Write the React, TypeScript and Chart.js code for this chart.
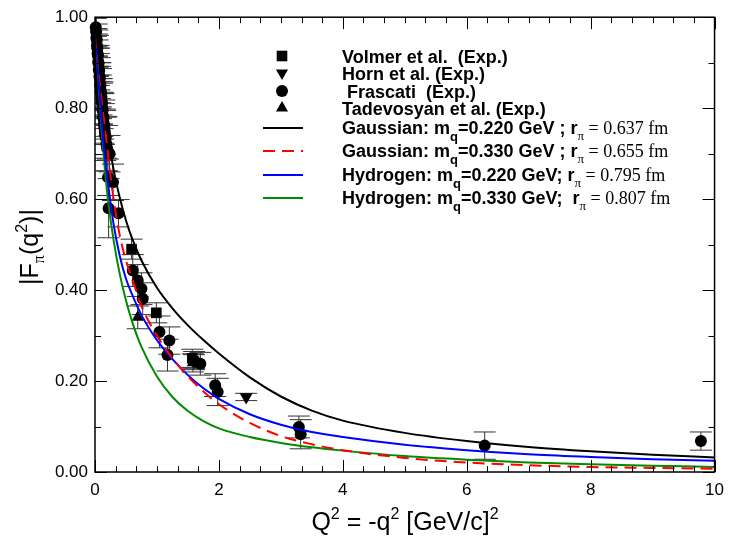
import React, { useEffect, useRef } from 'react';
import { Chart, registerables } from 'chart.js';

Chart.register(...registerables);

// ---- model curves ----
const curveQ2 = [0, 0.05, 0.1, 0.15, 0.2, 0.3, 0.4, 0.5, 0.6, 0.75, 1.0, 1.25, 1.5, 1.75, 2.0, 2.5, 3.0, 3.5, 4.0, 5.0, 6.0, 7.0, 8.0, 9.0, 10.0];
const gauss220 = [1.0, 0.93, 0.865, 0.805, 0.75, 0.665, 0.603, 0.553, 0.513, 0.465, 0.405, 0.36, 0.3225, 0.29, 0.2605, 0.208, 0.166, 0.135, 0.113, 0.086, 0.068, 0.055, 0.0455, 0.038, 0.032];
const gauss330 = [1.0, 0.92, 0.845, 0.775, 0.71, 0.6, 0.52, 0.465, 0.425, 0.365, 0.3, 0.25, 0.21, 0.177, 0.149, 0.108, 0.079, 0.061, 0.048, 0.031, 0.021, 0.015, 0.011, 0.009, 0.007];
const hyd220 = [1.0, 0.88, 0.78, 0.705, 0.645, 0.545, 0.475, 0.425, 0.39, 0.345, 0.29, 0.248, 0.213, 0.184, 0.161, 0.127, 0.104, 0.088, 0.077, 0.06, 0.048, 0.039, 0.033, 0.028, 0.025];
const hyd330 = [1.0, 0.87, 0.765, 0.68, 0.61, 0.51, 0.435, 0.377, 0.33, 0.275, 0.21, 0.165, 0.134, 0.112, 0.096, 0.077, 0.064, 0.0545, 0.047, 0.035, 0.027, 0.021, 0.017, 0.014, 0.011];

// ---- experimental data ----
const volmerQ2 = [0.59, 0.99, 1.57];
const volmerF = [0.49, 0.35, 0.25];
const volmerErr = [0.022, 0.022, 0.02];

const hornQ2 = [1.6, 2.44];
const hornF = [0.243, 0.165];
const hornErr = [0.015, 0.008];

const tadQ2 = [0.69, 1.58];
const tadF = [0.34, 0.24];
const tadErr = [0.025, 0.02];

const frascatiQ2 = [0.012, 0.018, 0.022, 0.028, 0.032, 0.038, 0.042, 0.048, 0.052, 0.058, 0.062, 0.068, 0.072, 0.078, 0.083, 0.088, 0.093, 0.098, 0.104, 0.108, 0.114, 0.119, 0.124, 0.131, 0.137, 0.144, 0.151, 0.158, 0.166, 0.174, 0.183, 0.195, 0.235, 0.21, 0.29, 0.22, 0.38, 0.61, 0.69, 0.75, 0.77, 1.04, 1.2, 1.17, 1.6, 1.7, 1.94, 1.98, 3.29, 3.32, 6.29, 9.78];
const frascatiF = [0.978, 0.968, 0.955, 0.95, 0.938, 0.932, 0.92, 0.915, 0.902, 0.898, 0.885, 0.882, 0.87, 0.866, 0.852, 0.85, 0.838, 0.832, 0.825, 0.815, 0.81, 0.798, 0.795, 0.782, 0.778, 0.765, 0.758, 0.748, 0.74, 0.735, 0.722, 0.712, 0.7, 0.648, 0.637, 0.58, 0.569, 0.443, 0.421, 0.403, 0.381, 0.308, 0.289, 0.257, 0.245, 0.238, 0.191, 0.176, 0.099, 0.083, 0.058, 0.068];
const frascatiErr = [0.02, 0.03, 0.02, 0.035, 0.025, 0.04, 0.03, 0.045, 0.03, 0.04, 0.035, 0.05, 0.03, 0.045, 0.04, 0.05, 0.035, 0.055, 0.04, 0.05, 0.045, 0.06, 0.04, 0.05, 0.055, 0.045, 0.06, 0.05, 0.055, 0.045, 0.06, 0.05, 0.04, 0.04, 0.04, 0.065, 0.03, 0.035, 0.035, 0.035, 0.035, 0.035, 0.03, 0.035, 0.02, 0.025, 0.025, 0.03, 0.024, 0.032, 0.03, 0.02];

// ---- axes ----
const xMin = 0, xMax = 10, xMajor = 2, xMinorPerMajor = 6;
const yMin = 0, yMax = 1, yMajor = 0.2, yMinorPerMajor = 2;

// ---- legend ----
const markerLegend = [
  { label: 'Volmer et al.  (Exp.)', shape: 'square' },
  { label: 'Horn et al. (Exp.)', shape: 'down' },
  { label: ' Frascati  (Exp.)', shape: 'circle' },
  { label: 'Tadevosyan et al. (Exp.)', shape: 'up' },
];
const lineLegendModel = ['Gaussian: m', 'Gaussian: m', 'Hydrogen: m', 'Hydrogen: m'];
const lineLegendMass = ['=0.220 GeV ; r', '=0.330 GeV ; r', '=0.220 GeV; r', '=0.330 GeV;  r'];
const lineLegendRadius = [' = 0.637 fm', ' = 0.655 fm', ' = 0.795 fm', ' = 0.807 fm'];
const lineColors = ['#000000', '#ff0000', '#0000ff', '#008b00'];
const lineDash = [[], [12, 7], [], []];

const SANS = '"Liberation Sans", Arial, Helvetica, sans-serif';
const SERIF = '"Liberation Serif", "Times New Roman", serif';

type Part = { t: string; size: number; bold?: boolean; serif?: boolean; dy?: number };

function drawParts(ctx: CanvasRenderingContext2D, parts: Part[], x: number, y: number, align: 'left' | 'center') {
  const fonts = parts.map((p) => `${p.bold ? 'bold ' : ''}${p.size}px ${p.serif ? SERIF : SANS}`);
  const widths = parts.map((p, i) => {
    ctx.font = fonts[i];
    return ctx.measureText(p.t).width;
  });
  const total = widths.reduce((a, b) => a + b, 0);
  let cx = align === 'center' ? x - total / 2 : x;
  ctx.textAlign = 'left';
  ctx.textBaseline = 'alphabetic';
  parts.forEach((p, i) => {
    ctx.font = fonts[i];
    ctx.fillText(p.t, cx, y + (p.dy || 0));
    cx += widths[i];
  });
}

function drawMarker(ctx: CanvasRenderingContext2D, shape: string, x: number, y: number, r: number) {
  ctx.beginPath();
  if (shape === 'circle') {
    ctx.arc(x, y, r, 0, Math.PI * 2);
  } else if (shape === 'square') {
    const h = r * Math.SQRT1_2;
    ctx.rect(x - h, y - h, 2 * h, 2 * h);
  } else if (shape === 'up') {
    ctx.moveTo(x, y - r);
    ctx.lineTo(x + r * 0.866, y + r * 0.5);
    ctx.lineTo(x - r * 0.866, y + r * 0.5);
  } else {
    ctx.moveTo(x, y + r);
    ctx.lineTo(x + r * 0.866, y - r * 0.5);
    ctx.lineTo(x - r * 0.866, y - r * 0.5);
  }
  ctx.closePath();
  ctx.fillStyle = '#000';
  ctx.fill();
}

const errorBarPlugin = {
  id: 'errorBars',
  beforeDatasetsDraw(chart: any) {
    const { ctx, chartArea } = chart;
    const xs = chart.scales.x;
    const ys = chart.scales.y;
    ctx.save();
    ctx.beginPath();
    ctx.rect(chartArea.left, chartArea.top, chartArea.right - chartArea.left, chartArea.bottom - chartArea.top);
    ctx.clip();
    ctx.strokeStyle = '#333';
    ctx.lineWidth = 1;
    chart.data.datasets.forEach((ds: any) => {
      if (!ds.errors) return;
      ds.data.forEach((pt: any, i: number) => {
        const e = ds.errors[i];
        if (!e) return;
        const px = xs.getPixelForValue(pt.x);
        const pTop = ys.getPixelForValue(pt.y + e);
        const pBot = ys.getPixelForValue(pt.y - e);
        ctx.beginPath();
        ctx.moveTo(px, pTop);
        ctx.lineTo(px, pBot);
        ctx.moveTo(px - 11, pTop);
        ctx.lineTo(px + 11, pTop);
        ctx.moveTo(px - 11, pBot);
        ctx.lineTo(px + 11, pBot);
        ctx.stroke();
      });
    });
    ctx.restore();
  },
};

const framePlugin = {
  id: 'frame',
  afterDatasetsDraw(chart: any) {
    const { ctx, chartArea } = chart;
    const { left, right, top, bottom } = chartArea;
    const xs = chart.scales.x;
    const ys = chart.scales.y;
    ctx.save();
    ctx.strokeStyle = '#000';
    ctx.lineWidth = 1;
    ctx.beginPath();
    const nx = Math.round(((xMax - xMin) / xMajor) * xMinorPerMajor);
    for (let i = 0; i <= nx; i++) {
      const v = xMin + (i * xMajor) / xMinorPerMajor;
      const px = Math.round(xs.getPixelForValue(v)) + 0.5;
      const len = i % xMinorPerMajor === 0 ? 12 : 6;
      ctx.moveTo(px, bottom);
      ctx.lineTo(px, bottom - len);
      ctx.moveTo(px, top);
      ctx.lineTo(px, top + len);
    }
    const ny = Math.round(((yMax - yMin) / yMajor) * yMinorPerMajor);
    for (let i = 0; i <= ny; i++) {
      const v = yMin + (i * yMajor) / yMinorPerMajor;
      const py = Math.round(ys.getPixelForValue(v)) + 0.5;
      const len = i % yMinorPerMajor === 0 ? 12 : 6;
      ctx.moveTo(left, py);
      ctx.lineTo(left + len, py);
      ctx.moveTo(right, py);
      ctx.lineTo(right - len, py);
    }
    ctx.stroke();
    ctx.lineWidth = 1.5;
    ctx.strokeRect(left, top, right - left, bottom - top);
    ctx.restore();
  },
  afterDraw(chart: any) {
    const { ctx } = chart;
    ctx.save();
    ctx.fillStyle = '#000';
    // legend: markers
    const rowsY = [56, 73, 91, 108, 127, 150, 174, 197];
    const textX = 342;
    markerLegend.forEach((m, i) => {
      const r = m.shape === 'square' ? 7.5 : m.shape === 'circle' ? 6 : 7;
      drawMarker(ctx, m.shape, 282, rowsY[i], r);
      drawParts(ctx, [{ t: m.label, size: 18, bold: true }], textX, rowsY[i] + 6.5, 'left');
    });
    lineLegendModel.forEach((name, i) => {
      const y = rowsY[4 + i];
      ctx.save();
      ctx.strokeStyle = lineColors[i];
      ctx.lineWidth = 2;
      ctx.setLineDash(lineDash[i]);
      ctx.beginPath();
      ctx.moveTo(263, y + 1);
      ctx.lineTo(303, y + 1);
      ctx.stroke();
      ctx.restore();
      ctx.fillStyle = '#000';
      drawParts(
        ctx,
        [
          { t: name, size: 18, bold: true },
          { t: 'q', size: 13, bold: true, dy: 7 },
          { t: lineLegendMass[i], size: 18, bold: true },
          { t: 'π', size: 13, serif: true, dy: 6 },
          { t: lineLegendRadius[i], size: 18, serif: true },
        ],
        textX,
        y + 6.5,
        'left'
      );
    });
    // axis titles
    drawParts(
      ctx,
      [
        { t: 'Q', size: 25 },
        { t: '2', size: 16, dy: -11 },
        { t: ' = -q', size: 25 },
        { t: '2', size: 16, dy: -11 },
        { t: ' [GeV/c]', size: 25 },
        { t: '2', size: 16, dy: -11 },
      ],
      405,
      530,
      'center'
    );
    ctx.translate(38, 247);
    ctx.rotate(-Math.PI / 2);
    drawParts(
      ctx,
      [
        { t: '|F', size: 25 },
        { t: 'π', size: 16, serif: true, dy: 6 },
        { t: '(q', size: 25 },
        { t: '2', size: 16, dy: -11 },
        { t: ')|', size: 25 },
      ],
      0,
      0,
      'center'
    );
    ctx.restore();
  },
};

function pts(xs: number[], ys: number[]) {
  return xs.map((x, i) => ({ x, y: ys[i] }));
}

export default function App() {
  const ref = useRef<HTMLCanvasElement>(null);
  useEffect(() => {
    const curve = (data: number[], color: string, dash: number[]) => ({
      data: pts(curveQ2, data),
      showLine: true,
      borderColor: color,
      borderWidth: 2,
      borderDash: dash,
      pointRadius: 0,
      cubicInterpolationMode: 'monotone',
      fill: false,
      order: 0,
    });
    const markers = (xs: number[], ys: number[], errs: number[], style: string, r: number, rot = 0) => ({
      data: pts(xs, ys),
      errors: errs,
      showLine: false,
      pointStyle: style,
      pointRadius: r,
      rotation: rot,
      pointRotation: rot,
      backgroundColor: '#000',
      borderColor: '#000',
      borderWidth: 0,
      clip: false,
      order: 1,
    });
    const chart = new Chart(ref.current as HTMLCanvasElement, {
      type: 'scatter',
      data: {
        datasets: [
          markers(frascatiQ2, frascatiF, frascatiErr, 'circle', 6),
          markers(volmerQ2, volmerF, volmerErr, 'rect', 7.5),
          markers(hornQ2, hornF, hornErr, 'triangle', 7.5, 180),
          markers(tadQ2, tadF, tadErr, 'triangle', 7),
          curve(gauss220, lineColors[0], lineDash[0]),
          curve(gauss330, lineColors[1], lineDash[1]),
          curve(hyd220, lineColors[2], lineDash[2]),
          curve(hyd330, lineColors[3], lineDash[3]),
        ] as any,
      },
      options: {
        responsive: false,
        animation: false,
        events: [],
        layout: { padding: { top: 16, right: 12, left: 0, bottom: 0 } },
        plugins: { legend: { display: false }, tooltip: { enabled: false } },
        scales: {
          x: {
            type: 'linear',
            min: xMin,
            max: xMax,
            grid: { display: false, drawTicks: false },
            border: { display: false },
            ticks: {
              stepSize: xMajor,
              padding: 8,
              color: '#000',
              font: { family: SANS, size: 17 },
              callback: (v: any) => String(v),
            },
            afterFit: (s: any) => {
              s.height = 66;
            },
          },
          y: {
            type: 'linear',
            min: yMin,
            max: yMax,
            grid: { display: false, drawTicks: false },
            border: { display: false },
            ticks: {
              stepSize: yMajor,
              padding: 7,
              color: '#000',
              font: { family: SANS, size: 17 },
              callback: (v: any) => Number(v).toFixed(2),
            },
            afterFit: (s: any) => {
              s.width = 95;
            },
          },
        },
      } as any,
      plugins: [errorBarPlugin, framePlugin],
    });
    return () => chart.destroy();
  }, []);
  return (
    <div style={{ position: 'absolute', left: 0, top: 0, width: 732, height: 538, background: '#fff' }}>
      <canvas ref={ref} width={732} height={538} style={{ display: 'block' }} />
    </div>
  );
}
